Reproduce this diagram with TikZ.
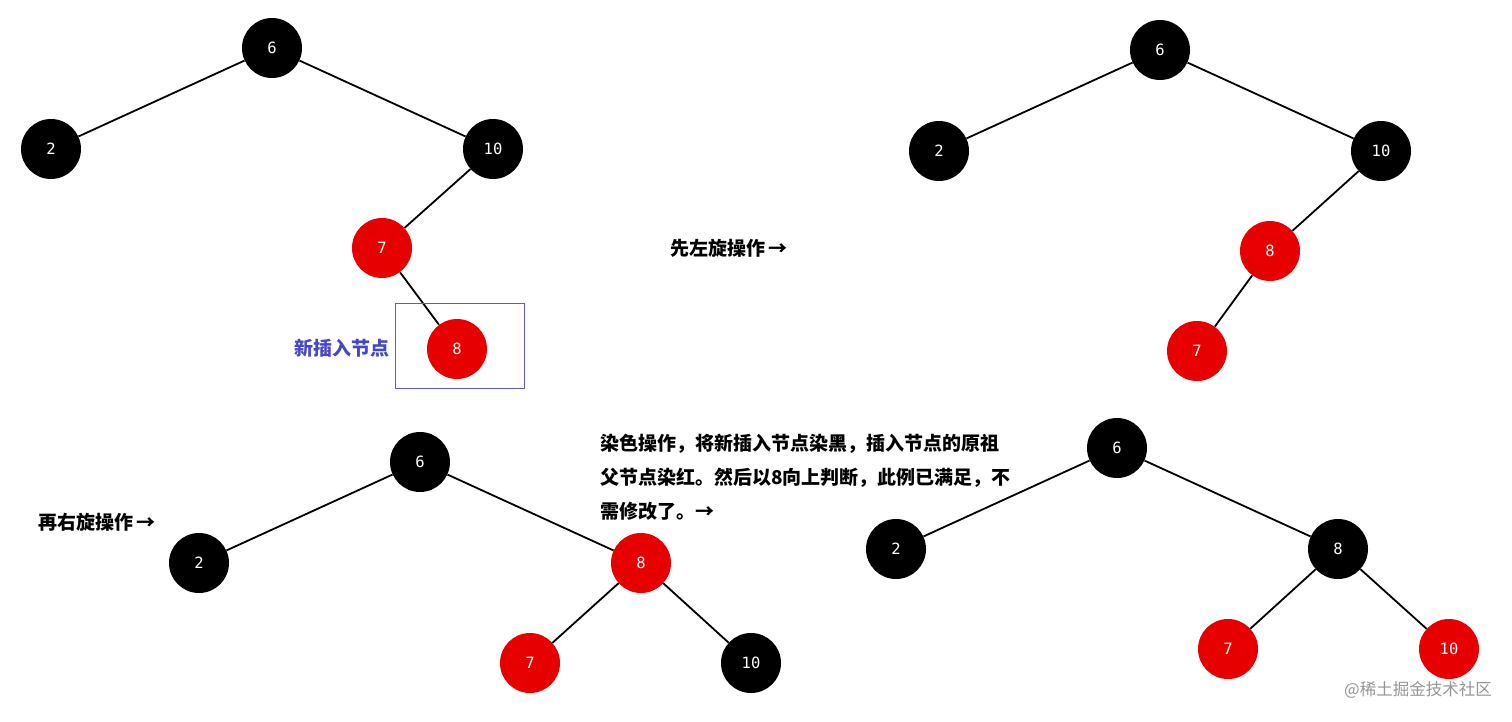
\documentclass[tikz,border=0pt]{standalone}
\usepackage{fontspec}
\newfontfamily\cjk{Noto Sans CJK SC}
\newfontfamily\mono{DejaVu Sans Mono}
\definecolor{rbred}{RGB}{230,0,0}
\definecolor{lblue}{RGB}{70,70,200}
\definecolor{boxblue}{RGB}{90,90,210}
\definecolor{wm}{RGB}{150,150,150}
\tikzset{
  bn/.style={circle,fill=black,minimum size=60pt,inner sep=0pt,text=white,font=\mono\fontsize{15.5}{17}\selectfont},
  rn/.style={bn,fill=rbred},
  edge/.style={line width=1.8pt,black},
  lbl/.style={font=\cjk\bfseries\fontsize{19}{22}\selectfont,inner sep=0pt}
}
\begin{document}
\begin{tikzpicture}[x=1pt,y=-1pt]
\useasboundingbox[fill=white] (0,0) rectangle (1512,721);
% tree 1
\node[bn] (a6) at (272,48) {6};
\node[bn] (a2) at (51,149) {2};
\node[bn] (a10) at (493,149) {10};
\node[rn] (a7) at (382,248) {7};
\node[rn] (a8) at (457,349) {8};
\draw[edge] (a6) -- (a2);
\draw[edge] (a6) -- (a10);
\draw[edge] (a10) -- (a7);
\draw[edge] (a7) -- (a8);
\node[draw=boxblue,line width=1pt,minimum width=129pt,minimum height=85pt,inner sep=0pt] (box) at (459.5,345.5) {};
\node[lbl,text=lblue] (newl) at (342,348) {新插入节点};
% label 1
\node[lbl,anchor=west] (l1) at (670,248) {先左旋操作\,→};
% tree 2
\node[bn] (b6) at (1160,50) {6};
\node[bn] (b2) at (939,151) {2};
\node[bn] (b10) at (1381,151) {10};
\node[rn] (b8) at (1270,251) {8};
\node[rn] (b7) at (1197,351) {7};
\draw[edge] (b6) -- (b2);
\draw[edge] (b6) -- (b10);
\draw[edge] (b10) -- (b8);
\draw[edge] (b8) -- (b7);
% label 2
\node[lbl,anchor=west] (l2) at (38,522) {再右旋操作\,→};
% tree 3
\node[bn] (c6) at (420,462) {6};
\node[bn] (c2) at (199,563) {2};
\node[rn] (c8) at (641,563) {8};
\node[rn] (c7) at (530,663) {7};
\node[bn] (c10) at (751,663) {10};
\draw[edge] (c6) -- (c2);
\draw[edge] (c6) -- (c8);
\draw[edge] (c8) -- (c7);
\draw[edge] (c8) -- (c10);
% text block
\node[lbl,anchor=west] (t1) at (600,444) {染色操作，将新插入节点染黑，插入节点的原祖};
\node[lbl,anchor=west] (t2) at (600,478) {父节点染红。然后以8向上判断，此例已满足，不};
\node[lbl,anchor=west] (t3) at (600,511) {需修改了。→};
% tree 4
\node[bn] (d6) at (1117,448) {6};
\node[bn] (d2) at (896,549) {2};
\node[bn] (d8) at (1338,549) {8};
\node[rn] (d7) at (1228,649) {7};
\node[rn] (d10) at (1449,649) {10};
\draw[edge] (d6) -- (d2);
\draw[edge] (d6) -- (d8);
\draw[edge] (d8) -- (d7);
\draw[edge] (d8) -- (d10);
% watermark
\node[font=\cjk\fontsize{16.5}{18}\selectfont,text=wm,anchor=east,inner sep=0pt] (wmk) at (1492,690) {@稀土掘金技术社区};
\end{tikzpicture}
\end{document}
